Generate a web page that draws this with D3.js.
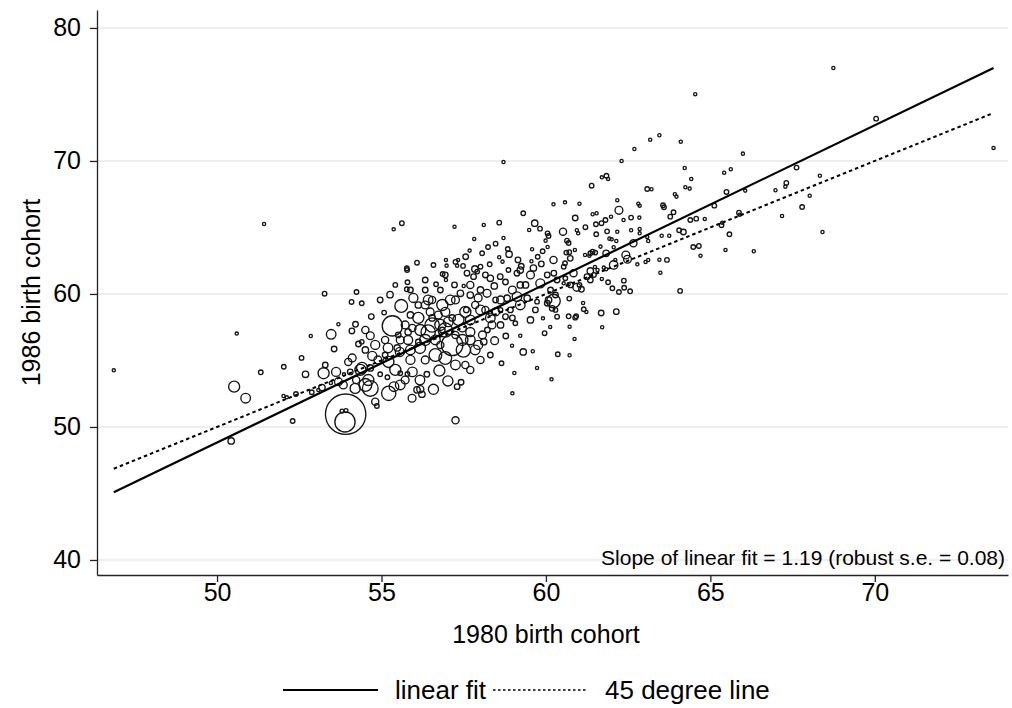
<!DOCTYPE html>
<html>
<head>
<meta charset="utf-8">
<script src="https://cdn.jsdelivr.net/npm/d3@7"></script>
<style>
	body { margin: 0; background: #fff; }
	text { font-family: "Liberation Sans", Arial, Helvetica, sans-serif; fill: #000; }
</style>
</head>
<body>
<svg id="chart" width="1012" height="708"></svg>
<script>
const xTicks = [50, 55, 60, 65, 70];
const yTicks = [40, 50, 60, 70, 80];
const xTitle = "1980 birth cohort";
const yTitle = "1986 birth cohort";
const fitSlope = 1.193;
const fitIntercept = -10.82;
const slopeNote = "Slope of linear fit = 1.19 (robust s.e. = 0.08)";
const legendLabels = ["linear fit", "45 degree line"];

// [1980 cohort value, 1986 cohort value, weight]
const points = [
	[68.74,76.99,1],[64.54,75.02,1],[62.30,70.00,1],[62.69,70.90,1],[63.17,71.60,1],[63.45,71.93,1],
	[64.10,71.45,1],[64.22,69.47,1],[65.99,70.55,1],[65.42,69.12,1],[65.62,69.38,1],[67.62,69.50,2],
	[70.04,73.18,2],[73.61,70.98,1],[68.33,68.89,1],[61.70,68.77,1],[61.84,68.89,2],[61.89,68.65,1],
	[64.42,68.65,1],[67.31,68.35,2],[67.28,68.07,1],[66.98,67.80,1],[68.02,67.39,1],[67.79,66.54,2],
	[67.18,65.86,1],[68.41,64.66,1],[66.06,67.77,1],[65.49,67.67,2],[65.12,66.64,2],[65.87,66.11,2],
	[65.89,65.96,1],[65.34,65.17,2],[65.36,65.36,1],[65.58,64.49,2],[65.46,63.31,1],[66.32,63.21,1],
	[64.70,62.88,1],[64.48,63.53,2],[64.65,63.61,2],[64.39,65.56,2],[64.57,65.66,2],[64.83,65.64,1],
	[64.18,64.66,3],[64.24,68.02,1],[64.37,67.92,1],[58.71,69.92,1],
	[61.39,68.14,2],[63.08,67.89,2],[63.21,67.87,1],[63.92,67.50,1],[63.97,67.32,1],[60.58,66.89,1],
	[61.02,66.79,1],[62.17,67.05,1],[62.81,66.79,1],[62.85,66.64,1],[63.56,66.67,2],[63.59,66.52,2],
	[62.22,66.29,6],[61.42,65.99,1],[61.54,66.07,1],[61.98,65.81,1],[60.89,65.71,3],[63.88,66.14,2],
	[63.78,65.81,2],[61.81,65.56,2],[62.36,65.56,1],[62.59,65.74,2],[62.84,65.74,1],[61.52,65.24,2],
	[61.69,65.32,2],[61.20,65.02,2],[60.52,64.68,5],[60.94,64.79,1],[60.98,64.56,1],[61.86,64.71,2],
	[62.17,64.68,1],[62.59,64.79,1],[62.85,64.89,1],[62.85,64.56,1],[63.52,64.38,1],[64.05,64.79,2],
	[63.75,64.38,1],[61.53,64.49,2],[60.64,64.01,2],[60.69,63.83,2],[61.93,64.16,1],[62.00,64.11,1],
	[62.14,63.98,1],[62.66,63.81,5],[63.11,63.98,1],[63.08,64.29,1],[60.88,63.31,1],[60.62,63.11,2],
	[60.71,63.14,2],[61.42,63.18,2],[61.50,63.11,2],[61.35,63.06,2],[61.66,63.56,1],[62.06,63.51,1],
	[61.83,63.06,4],[62.11,62.56,1],[62.43,62.93,6],[62.48,62.61,6],[60.74,62.68,3],[61.19,62.93,1],
	[61.32,62.88,1],[62.78,62.23,1],[63.03,62.41,1],[63.11,62.56,1],[63.45,62.58,1],[63.68,62.56,2],
	[61.02,60.68,2],[60.94,60.50,6],[60.58,62.31,2],[60.54,62.05,2],[61.49,62.03,1],[61.76,61.98,1],
	[61.83,61.86,1],[62.06,62.18,7],
	[60.23,66.74,1],[59.31,66.07,2],[59.66,65.32,4],[58.58,65.36,2],[58.11,65.19,1],[57.22,65.06,1],
	[59.49,64.81,1],[59.82,64.91,2],[60.05,64.56,2],[60.08,64.36,2],[57.82,64.14,1],[58.71,64.21,1],
	[58.47,63.78,2],[58.24,63.53,2],[59.99,64.01,1],[60.05,63.53,1],[59.58,63.36,1],[57.68,63.26,1],
	[58.06,63.06,2],[58.84,63.38,2],[58.88,62.99,4],[59.90,63.21,2],[57.56,62.80,3],[58.58,62.76,1],
	[59.75,62.80,2],[59.15,62.56,3],[58.68,62.43,1],[59.56,62.46,1],[60.23,62.56,5],[56.96,62.56,1],
	[57.33,62.56,1],[56.98,62.13,1],[57.30,62.13,1],[57.48,62.11,2],[57.84,61.88,4],[58.01,62.05,2],
	[58.29,62.23,2],[59.25,62.08,3],
	[56.86,61.50,2],[57.22,60.68,3],[56.66,60.73,2],[56.96,61.05,1],[57.50,60.60,1],[57.60,61.56,3],
	[57.80,61.30,3],[57.91,61.68,2],[58.16,61.43,3],[58.31,61.18,4],[58.61,61.30,3],[58.86,61.80,2],
	[59.12,61.56,3],[59.22,60.68,4],[59.12,59.80,9],[59.43,59.68,4],[58.82,59.68,4],[58.21,60.05,6],
	[57.70,59.92,4],[57.40,60.05,4],[59.83,60.80,8],[60.04,61.43,3],[60.24,61.56,3],[60.34,61.05,3],
	[60.14,60.30,3],[60.29,59.92,3],[59.73,59.42,2],[60.04,59.30,3],[60.19,58.92,3],[60.29,58.80,2],
	[59.53,58.05,4],[59.91,58.17,1],[60.34,58.29,2],[59.07,57.80,2],[58.77,58.29,3],[58.92,58.80,3],
	[58.62,58.80,2],[58.36,57.67,6],[58.31,58.55,2],[58.78,56.84,3],[59.22,56.86,1],[59.96,57.05,2],
	[60.13,57.52,1],[59.31,55.64,4],[59.60,55.69,1],[60.36,55.47,2],[59.73,54.44,1],[58.65,54.79,2],
	[58.97,56.11,1],[58.44,56.49,6],[58.11,56.41,4],
	[63.48,61.60,1],[62.37,61.00,2],[61.89,60.88,2],[61.70,61.13,1],[62.02,60.43,2],[62.22,60.15,2],
	[62.38,60.47,2],[62.56,60.20,2],[64.08,60.23,2],[61.08,60.35,3],[60.71,59.65,2],[61.13,59.32,1],
	[60.23,59.47,18],[61.15,58.85,2],[61.23,58.65,1],[61.68,58.57,3],[62.14,58.67,3],[60.69,58.32,2],
	[60.89,58.22,2],[60.92,58.32,2],[60.72,57.54,1],[61.71,57.50,1],[60.87,56.62,1],[60.72,55.39,1],
	[61.25,61.30,3],[61.46,61.43,2],[60.84,61.56,5],[60.59,61.18,2],[60.54,60.80,1],[60.69,60.73,1],
	[61.57,61.80,1],[61.35,61.73,4],
	[59.04,54.06,1],[60.17,53.58,1],[58.98,52.53,1],[57.25,50.50,5],[57.42,53.36,3],[57.30,53.03,3],
	[57.02,53.46,10],[56.58,52.83,10],[56.38,53.96,3],[56.23,52.46,4],[56.18,52.84,5],[56.76,54.24,12],
	[52.30,50.45,2],[52.69,53.96,4],[52.02,52.33,1],[52.12,52.23,1],[52.40,52.48,2],[52.88,52.61,2],
	[53.08,52.78,1],[53.19,52.96,4],[53.46,53.31,1],[53.24,54.04,12],[53.69,53.40,6],[53.86,53.96,1],
	[54.20,52.90,10],[54.51,53.16,16],[54.66,52.90,24],[54.81,51.90,5],[54.86,51.58,2],[55.22,52.53,20],
	[55.38,53.03,9],[55.93,52.16,6],[56.08,52.79,4],[54.96,53.96,2],[55.57,54.04,2],[55.18,53.74,2],
	[55.79,53.98,2],[53.91,50.96,160],[53.89,50.38,40],[53.80,51.20,1.5],[53.92,51.23,1.5],
	[46.86,54.26,1],[50.60,57.02,1],[51.33,54.11,2],[50.52,53.03,12],[50.87,52.16,9],[50.43,48.95,4],
	[51.43,65.26,1],[55.37,64.86,1],[55.62,65.32,2],[55.77,61.93,2],[56.08,62.35,2],
	[55.78,61.80,2],[55.79,60.88,2],[55.77,60.35,2],[53.27,60.02,2],[54.24,60.15,2],[55.26,59.95,4],
	[54.09,59.40,2],[54.40,59.30,2],[55.08,58.60,2],[54.69,58.30,3],[55.60,59.10,16],[54.21,57.72,3],
	[53.69,57.72,1],[54.10,57.22,3],[53.47,56.97,9],[52.85,56.84,1],[54.66,56.86,6],[55.33,57.60,40],
	[53.56,55.86,3],[54.30,56.24,3],[54.40,56.40,2],[52.57,55.19,2],[52.03,54.53,2],
	[55.97,59.70,8],[56.12,58.20,12],[56.42,57.14,20],[56.79,57.67,12],[57.15,56.17,45],[57.49,55.79,20],
	[56.64,55.41,16],[56.94,58.65,8],[57.34,58.05,12],[57.70,57.14,8],[57.94,56.17,8],[55.81,56.54,8],
	[56.17,55.94,12],[55.56,55.64,8],[55.21,54.89,12],[54.72,55.34,8],[54.41,54.44,12],[53.99,54.89,5],
	[53.62,54.14,8],[53.29,54.66,3],[54.23,53.53,5],[55.42,54.29,12],[55.88,55.04,8],[57.70,54.29,5],
	[58.01,55.04,5],[58.31,55.41,3],[57.85,59.17,5],[58.16,58.80,5],[56.54,59.55,5],[56.33,60.30,3],
	[56.79,60.30,3],[57.70,60.68,5],[58.47,59.55,3],[56.33,61.05,3],[54.96,59.55,3],[54.51,57.29,5],
	[54.81,56.17,8],[55.11,56.54,5],[55.51,56.92,3],[55.94,57.44,5],[56.79,56.17,5],[57.25,56.92,5],
	[57.55,54.66,5],
	[56.18,57.29,12],[56.64,56.54,9],[56.94,57.29,20],[57.46,56.54,12],[57.70,58.05,9],[58.31,58.20,9],
	[58.62,59.55,6],[58.98,60.30,6],[59.38,60.68,4],[59.53,61.43,6],[59.22,59.17,9],[57.09,59.55,9],
	[56.73,58.42,6],[56.33,59.17,6],[55.88,58.42,4],[55.72,57.67,6],[58.01,60.30,4],[57.85,55.79,9],
	[57.25,54.66,9],[56.17,53.53,9],[55.72,53.53,6],[54.36,54.29,12],
	[56.85,57.29,3],[57.15,58.20,4],[57.58,58.80,3],[57.94,59.70,6],[58.43,60.60,4],[58.77,60.90,3],
	[59.62,61.95,4],[59.86,62.26,3],[59.22,61.80,4],[55.81,57.14,4],[56.12,56.39,3],[55.48,55.94,4],
	[55.11,55.41,3],[54.66,54.44,4],[54.05,54.14,3],[53.84,53.16,6],[56.54,58.20,4],[57.46,57.44,6],
	[58.22,57.29,3],[58.62,57.67,4],[58.98,58.20,3],[59.68,58.80,3],[60.08,59.55,4],[60.75,60.68,3],
	[61.35,61.05,3],[56.94,61.43,3],[56.58,62.18,2],[55.88,60.30,3],[55.42,60.68,2],[57.25,62.41,2],
	[56.42,59.55,9],[56.85,59.17,12],[57.25,59.55,6],[57.55,58.65,12],[57.03,57.90,9],[56.48,58.65,6],
	[56.12,59.17,4],[56.54,57.67,20],[56.33,56.54,12],[56.94,55.19,16],[57.70,56.54,9],[58.07,56.92,6],
	[58.01,58.80,9],[58.47,58.65,6],[55.88,55.79,9],[55.57,56.54,6],[55.20,55.94,9],[54.89,55.04,6],
	[54.51,55.79,4],[54.11,55.19,6],[54.60,53.53,12],[55.57,53.16,9],[55.94,54.14,9],[56.33,55.04,6]
];

const svg = d3.select("#chart");
const x = d3.scaleLinear().domain([46.35, 74.05]).range([97, 1008]);
const y = d3.scaleLinear().domain([38.87, 81.35]).range([575, 10]);
const r = d3.scaleSqrt().domain([0, 160]).range([0, 20.2]);

drawGrid();
drawPoints();
drawLines();
drawAxes();
drawLegend();

function drawGrid() {
	svg.append("g")
		.selectAll("line")
		.data(yTicks)
		.join("line")
		.attr("x1", x.range()[0])
		.attr("x2", x.range()[1])
		.attr("y1", d => y(d))
		.attr("y2", d => y(d))
		.attr("stroke", "#e8e8e8")
		.attr("stroke-width", 1.6);
}

function drawPoints() {
	svg.append("g")
		.selectAll("circle")
		.data(points)
		.join("circle")
		.attr("cx", d => x(d[0]))
		.attr("cy", d => y(d[1]))
		.attr("r", d => r(d[2]))
		.attr("fill", "none")
		.attr("stroke", "#151515")
		.attr("stroke-width", 1.35);
}

function drawLines() {
	const xs = d3.extent(points, d => d[0]);
	const line = d3.line().x(d => x(d[0])).y(d => y(d[1]));

	svg.append("path")
		.attr("d", line(xs.map(v => [v, fitIntercept + fitSlope * v])))
		.attr("fill", "none")
		.attr("stroke", "#000")
		.attr("stroke-width", 2.2);

	svg.append("path")
		.attr("d", line(xs.map(v => [v, v])))
		.attr("fill", "none")
		.attr("stroke", "#000")
		.attr("stroke-width", 2)
		.attr("stroke-dasharray", "3.5,3");
}

function drawAxes() {
	const xAxis = svg.append("g")
		.attr("transform", `translate(0,${y.range()[0]})`)
		.call(d3.axisBottom(x).tickValues(xTicks).tickSize(7).tickSizeOuter(0).tickPadding(1));
	const yAxis = svg.append("g")
		.attr("transform", `translate(${x.range()[0]},0)`)
		.call(d3.axisLeft(y).tickValues(yTicks).tickSize(7).tickSizeOuter(0).tickPadding(9));

	[xAxis, yAxis].forEach(a => {
		a.select(".domain").attr("stroke", "#222").attr("stroke-width", 1.3);
		a.selectAll(".tick line").attr("stroke", "#222").attr("stroke-width", 1.3);
		a.selectAll(".tick text")
			.style("font-family", '"Liberation Sans", Arial, sans-serif')
			.style("font-size", "25px")
			.attr("fill", "#000");
	});

	svg.append("text")
		.attr("x", 546)
		.attr("y", 643)
		.attr("text-anchor", "middle")
		.style("font-size", "25px")
		.text(xTitle);

	svg.append("text")
		.attr("transform", `translate(40,${(y.range()[0] + y.range()[1]) / 2}) rotate(-90)`)
		.attr("text-anchor", "middle")
		.style("font-size", "25px")
		.text(yTitle);

	svg.append("text")
		.attr("x", 1005)
		.attr("y", 565)
		.attr("text-anchor", "end")
		.style("font-size", "21px")
		.text(slopeNote);
}

function drawLegend() {
	const g = svg.append("g");
	g.append("line")
		.attr("x1", 283).attr("x2", 378).attr("y1", 690).attr("y2", 690)
		.attr("stroke", "#000").attr("stroke-width", 2.2);
	g.append("text")
		.attr("x", 395).attr("y", 699)
		.style("font-size", "26px")
		.text(legendLabels[0]);
	g.append("line")
		.attr("x1", 493).attr("x2", 587).attr("y1", 690).attr("y2", 690)
		.attr("stroke", "#000").attr("stroke-width", 1.6)
		.attr("stroke-dasharray", "2.5,2.5");
	g.append("text")
		.attr("x", 605).attr("y", 699)
		.style("font-size", "26px")
		.text(legendLabels[1]);
}
</script>
</body>
</html>
